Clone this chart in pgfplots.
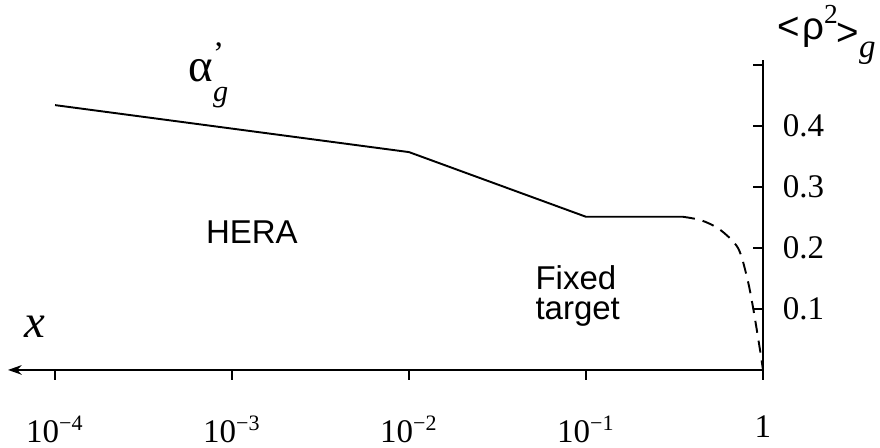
\documentclass[border=0pt]{standalone}
\usepackage{amsmath}
\usepackage{fontspec}
\setmainfont{Liberation Serif}
\setsansfont{Liberation Sans}
\usepackage{pgfplots}
\pgfplotsset{compat=1.18}
\usetikzlibrary{arrows.meta}

\begin{document}
\fontsize{12}{14}\selectfont
\begin{tikzpicture}
\begin{axis}[
  xmode=log, log basis x=10,
  scale only axis, width=274.5pt, height=112.7pt,
  xmin=5.42e-5, xmax=1,
  ymin=0, ymax=0.508,
  axis x line=bottom, axis y line=right,
  x axis line style={{Stealth[length=5pt,width=3.5pt]}-},
  y axis line style={-},
  axis line style={line width=0.6pt},
  xtick={1e-4,1e-3,1e-2,1e-1,1},
  xticklabels={10\textsuperscript{−4},10\textsuperscript{−3},10\textsuperscript{−2},10\textsuperscript{−1},1},
  xminorticks=false,
  ytick={0.1,0.2,0.3,0.4,0.5},
  yticklabels={0.1,0.2,0.3,0.4,{}},
  xtick align=outside, ytick align=inside,
  major tick length=3.6pt,
  tick style={line width=0.6pt, black},
  xticklabel style={yshift=-9pt, font=\fontsize{12}{14}\selectfont},
  yticklabel style={xshift=3pt, font=\fontsize{12}{14}\selectfont},
  clip=false,
]
\addplot[black, line width=0.7pt] coordinates {
  (1e-4,0.434) (1e-2,0.357) (0.1,0.251) (0.353,0.251)
};
\addplot[black, line width=0.7pt, smooth, dash pattern=on 4.4pt off 2.9pt] coordinates {
  (0.353,0.251) (0.45,0.245) (0.571,0.230) (0.722,0.200) (0.812,0.152) (0.878,0.103) (0.962,0.033) (1,0)
};
\node[inner sep=0pt] at (rel axis cs:0.0358,0.139) {\fontsize{17}{20}\selectfont\textit{x}};
\node[inner sep=0pt, anchor=base west] at (rel axis cs:0.2384,0.929) {\fontsize{17}{20}\selectfont $\text{α}^{\text{’}}_{\raisebox{-3pt}{\fontsize{11}{13}\selectfont\itshape g}}$};
\node at (rel axis cs:0.323,0.445) {\sffamily HERA};
\node[align=left, anchor=west, inner sep=0pt] at (rel axis cs:0.698,0.239) {\sffamily Fixed\\[-3pt]\sffamily target};
\node[inner sep=0pt, anchor=east] at (rel axis cs:1.150,1.081) {\fontsize{14}{16}\selectfont{\sffamily <\kern0.05em ρ}\raisebox{0.9ex}{\fontsize{10}{12}\selectfont 2}{\sffamily\kern-0.03em\raisebox{-0.3ex}{>}}\raisebox{-1.0ex}{\fontsize{12}{14}\selectfont\itshape g}};
\coordinate (bbsw) at (rel axis cs:-0.0106,-0.2516);
\coordinate (bbne) at (rel axis cs:1.155,1.1935);
\end{axis}
\pgfresetboundingbox
\useasboundingbox (bbsw) rectangle (bbne);
\end{tikzpicture}
\end{document}
